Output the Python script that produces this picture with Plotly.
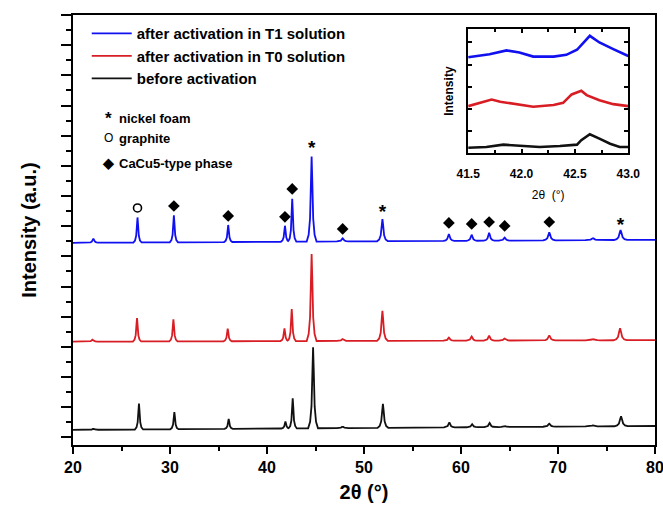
import numpy as np
import plotly.graph_objects as go

# ---------------- data ----------------
# main XRD patterns: peak positions (2theta, deg), heights above baseline (a.u.), relative widths
peaks_t1 = [22.1, 26.65, 30.4, 36.0, 41.85, 42.6, 44.6, 47.8, 51.9, 58.75, 61.1, 62.9, 64.5, 69.1, 73.6, 76.45]
heights_t1 = [27, 166, 179, 113, 106, 285, 564, 20, 146, 46, 40, 53, 20, 53, 13, 66]
peaks_t0 = [22.0, 26.6, 30.35, 35.95, 41.8, 42.55, 44.6, 47.8, 51.9, 58.75, 61.1, 62.9, 64.5, 69.1, 73.6, 76.4]
heights_t0 = [13, 156, 146, 84, 84, 212, 577, 13, 199, 20, 27, 33, 13, 33, 7, 80]
peaks_before = [22.1, 26.8, 30.45, 36.05, 41.9, 42.65, 44.75, 47.8, 51.95, 58.8, 61.15, 62.95, 64.5, 69.1, 73.6, 76.5]
heights_before = [7, 172, 113, 66, 46, 199, 537, 10, 159, 33, 20, 27, 7, 20, 7, 66]
peak_widths = [1.2, 1.0, 1.0, 1.0, 1.0, 1.0, 1.2, 1.4, 1.3, 1.3, 1.3, 1.3, 1.4, 1.5, 1.8, 1.6]
baseline_t1 = [1290, 1310]      # level at 20 deg and at 80 deg
baseline_t0 = [635, 645]
baseline_before = [50, 76]

# phase markers (2theta, intensity)
cacu5_x = [30.4, 36.0, 41.85, 42.6, 47.8, 58.75, 61.1, 62.9, 64.5, 69.1]
cacu5_y = [1534, 1468, 1462, 1647, 1382, 1422, 1415, 1428, 1402, 1428]
nickel_x = [44.6, 51.9, 76.45]
nickel_y = [1910, 1487, 1400]
graphite_x = [26.65]
graphite_y = [1521]

# inset (41.5 - 43.0 deg)
inset_x_t1 = [41.5, 41.70, 41.86, 41.98, 42.11, 42.30, 42.42, 42.52, 42.64, 42.73, 42.86, 43.0]
inset_y_t1 = [4.33, 4.47, 4.64, 4.55, 4.36, 4.36, 4.44, 4.67, 5.30, 5.00, 4.70, 4.39]
inset_x_t0 = [41.5, 41.61, 41.72, 41.80, 41.95, 42.11, 42.30, 42.39, 42.47, 42.56, 42.61, 42.73, 42.86, 43.0]
inset_y_t0 = [2.12, 2.27, 2.42, 2.32, 2.20, 2.09, 2.17, 2.27, 2.65, 2.82, 2.62, 2.39, 2.21, 2.12]
inset_x_before = [41.5, 41.67, 41.83, 41.98, 42.17, 42.36, 42.52, 42.56, 42.64, 42.73, 42.83, 42.92, 43.0]
inset_y_before = [0.24, 0.27, 0.38, 0.32, 0.27, 0.32, 0.38, 0.58, 0.85, 0.65, 0.42, 0.27, 0.27]

series_names = ["after activation in T1 solution", "after activation in T0 solution", "before activation"]
series_colors = ["#1010f0", "#d81e24", "#111111"]

# ---------------- build piecewise peak polylines ----------------
shape_off = np.array([-0.5, -0.3, -0.16, -0.06, 0.0, 0.06, 0.16, 0.3, 0.5])
shape_frac = np.array([0.0, 0.08, 0.27, 0.75, 1.0, 0.75, 0.27, 0.08, 0.0])


def pattern(centers, heights, base):
    xs = [20.0, 80.0]
    for c, w in zip(centers, peak_widths):
        xs.extend(list(c + shape_off * 0.85 * w))
    xs = np.unique(np.clip(np.array(xs), 20, 80))
    ys = np.interp(xs, [20, 80], base)
    for c, h, w in zip(centers, heights, peak_widths):
        ys = ys + h * np.interp(xs, c + shape_off * 0.85 * w, shape_frac, left=0, right=0)
    return xs, ys


FONT = "Liberation Sans, Arial, sans-serif"
fig = go.Figure()

for name, col, pk, hh, bl in zip(series_names, series_colors,
                                 [peaks_t1, peaks_t0, peaks_before],
                                 [heights_t1, heights_t0, heights_before],
                                 [baseline_t1, baseline_t0, baseline_before]):
    x, y = pattern(pk, hh, bl)
    fig.add_trace(go.Scatter(x=x, y=y, mode="lines", name=name,
                             line=dict(color=col, width=1.8)))

fig.add_trace(go.Scatter(x=cacu5_x, y=cacu5_y, mode="markers", showlegend=False,
                         marker=dict(symbol="diamond", size=9, color="black")))
fig.add_trace(go.Scatter(x=nickel_x, y=nickel_y, mode="text", text=["*"] * len(nickel_x),
                         showlegend=False,
                         textfont=dict(family=FONT, size=19, color="black", weight="bold")))
fig.add_trace(go.Scatter(x=graphite_x, y=graphite_y, mode="markers", showlegend=False,
                         marker=dict(symbol="circle-open", size=8, color="black",
                                     line=dict(width=1.6, color="black"))))

for xx, yy, col in zip([inset_x_t1, inset_x_t0, inset_x_before],
                       [inset_y_t1, inset_y_t0, inset_y_before], series_colors):
    fig.add_trace(go.Scatter(x=xx, y=yy, mode="lines", showlegend=False,
                             xaxis="x2", yaxis="y2", line=dict(color=col, width=2.6)))

bold = dict(family=FONT, color="black", weight="bold")

fig.update_layout(
    width=663, height=514,
    margin=dict(l=73, r=8, t=15, b=69, autoexpand=False),
    paper_bgcolor="white", plot_bgcolor="white",
    showlegend=True,
    legend=dict(x=0.0236, y=0.995, xanchor="left", yanchor="top",
                bgcolor="rgba(0,0,0,0)", font=dict(size=15, **bold),
                tracegroupgap=0, itemwidth=40),
    xaxis=dict(range=[20, 80], tick0=20, dtick=10, ticks="outside", ticklen=7, tickwidth=2,
               tickcolor="black", automargin=False, ticklabeloverflow="allow",
               minor=dict(dtick=5, ticks="outside", ticklen=4, tickwidth=2, tickcolor="black"),
               showline=True, linewidth=2, linecolor="black", mirror=True,
               showgrid=False, zeroline=False,
               tickfont=dict(size=16, **bold),
               title=dict(text="2θ (°)", font=dict(size=20, **bold), standoff=10)),
    yaxis=dict(range=[-50, 2800], tick0=0, dtick=200, ticks="outside", ticklen=10, tickwidth=2,
               tickcolor="black", showticklabels=False, automargin=False,
               minor=dict(dtick=100, ticks="outside", ticklen=5, tickwidth=2, tickcolor="black"),
               showline=True, linewidth=2, linecolor="black", mirror=True,
               showgrid=False, zeroline=False,
               title=dict(text="Intensity (a.u.)", font=dict(size=20, **bold), standoff=19)),
    xaxis2=dict(domain=[0.679, 0.954], anchor="y2", range=[41.5, 43.0], dtick=0.5,
                tickformat=".1f", ticks="inside", ticklen=4, tickwidth=1.5, tickcolor="black",
                minor=dict(dtick=0.25, ticks="inside", ticklen=3, tickcolor="black"),
                showline=True, linewidth=1.5, linecolor="black", mirror="ticks",
                showgrid=False, zeroline=False, ticklabelstandoff=9, automargin=False,
                tickfont=dict(size=12, **bold),
                title=dict(text="2θ  (°)", font=dict(family=FONT, size=12, color="black"), standoff=10)),
    yaxis2=dict(domain=[0.679, 0.967], anchor="x2", range=[0, 5.6], dtick=1,
                ticks="inside", ticklen=4, tickwidth=1.5, tickcolor="black",
                showticklabels=False, automargin=False,
                showline=True, linewidth=1.5, linecolor="black", mirror="ticks",
                showgrid=False, zeroline=False,
                title=dict(text="Intensity", font=dict(size=12, **bold), standoff=10)),
)

# phase key
key_items = [("*", "nickel foam", 0.760, 17), ("O", "graphite", 0.713, 12), ("◆", "CaCu5-type phase", 0.655, 14)]
for sym, label, yy, fs in key_items:
    fig.add_annotation(xref="paper", yref="paper", x=(108 - 73) / 582, y=yy, xanchor="center",
                       yanchor="middle", text=sym, showarrow=False,
                       font=dict(family=FONT, size=fs, color="black", weight="bold" if sym != "O" else "normal"))
    fig.add_annotation(xref="paper", yref="paper", x=(117 - 73) / 582, y=yy, xanchor="left",
                       yanchor="middle", text=label, showarrow=False,
                       font=dict(size=13, **bold))

fig.write_html("out.html", config={"displayModeBar": False},
               post_script="document.body.style.margin='0';")
